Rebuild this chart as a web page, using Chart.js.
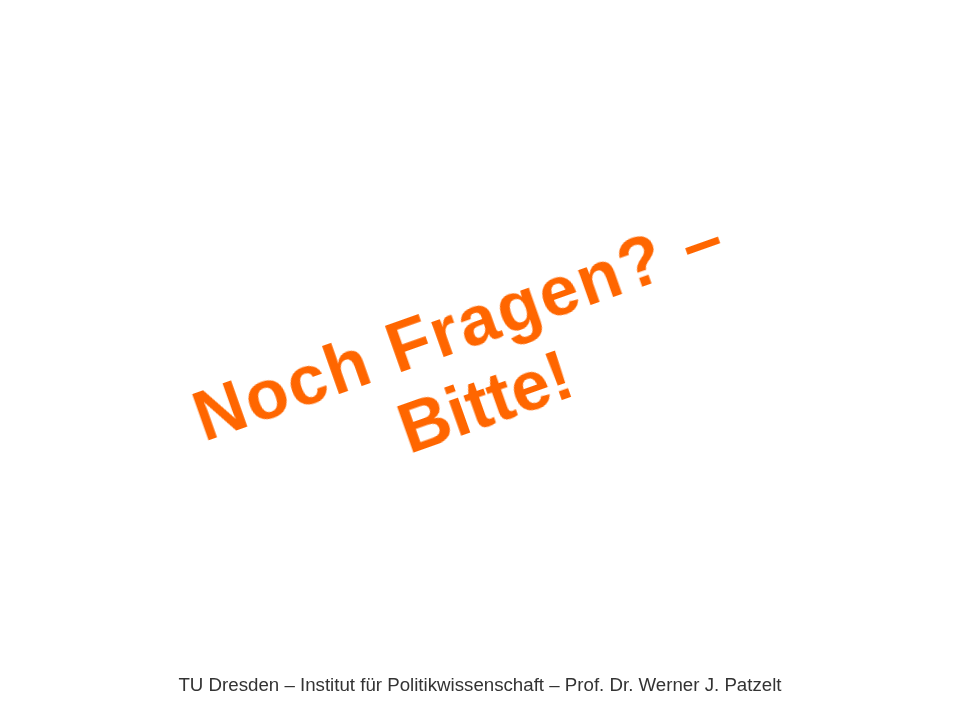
<!DOCTYPE html>
<html lang="de">
<head>
    <meta charset="UTF-8">
    <title>Noch Fragen? – Bitte!</title>
    <script src="https://cdn.jsdelivr.net/npm/chart.js"></script>
    <style>
        body {
            margin: 0;
            background: #ffffff;
            font-family: Arial, "Liberation Sans", sans-serif;
        }
        .slide {
            position: relative;
            width: 960px;
            height: 720px;
            overflow: hidden;
        }
        #bgChart {
            position: absolute;
            left: 0;
            top: 0;
        }
        .headline {
            position: absolute;
            left: 472px;
            top: 364px;
            transform: translate(-50%, -50%) rotate(-19.5deg);
            color: #ff6600;
            font-weight: bold;
            font-size: 70px;
            line-height: 80px;
            letter-spacing: 2px;
            text-align: center;
            white-space: nowrap;
        }
        .headline .l2 {
            letter-spacing: 0px;
        }
        .footer {
            position: absolute;
            left: 0;
            width: 960px;
            top: 674px;
            text-align: center;
            color: #333333;
            font-size: 18.7px;
        }
    </style>
</head>
<body>
<div class="slide">
    <canvas id="bgChart" width="960" height="720"></canvas>
    <div class="headline" id="headline"></div>
    <div class="footer" id="footer"></div>
</div>

<script>
    // slide content
    const headlineLines = ['Noch Fragen? –', 'Bitte!'];
    const footerText = 'TU Dresden – Institut für Politikwissenschaft – Prof. Dr. Werner J. Patzelt';

    // empty chart as backdrop (the slide has no data marks)
    const bgChart = new Chart(document.getElementById('bgChart').getContext('2d'), {
        type: 'scatter',
        data: { datasets: [{ data: [] }] },
        options: {
            responsive: false,
            animation: false,
            plugins: { legend: { display: false }, tooltip: { enabled: false } },
            scales: { x: { display: false }, y: { display: false } }
        }
    });

    const headline = document.getElementById('headline');
    headlineLines.forEach(function (line, i) {
        if (i > 0) headline.appendChild(document.createElement('br'));
        const span = document.createElement('span');
        span.className = 'l' + (i + 1);
        span.textContent = line;
        headline.appendChild(span);
    });
    document.getElementById('footer').textContent = footerText;
</script>
</body>
</html>
